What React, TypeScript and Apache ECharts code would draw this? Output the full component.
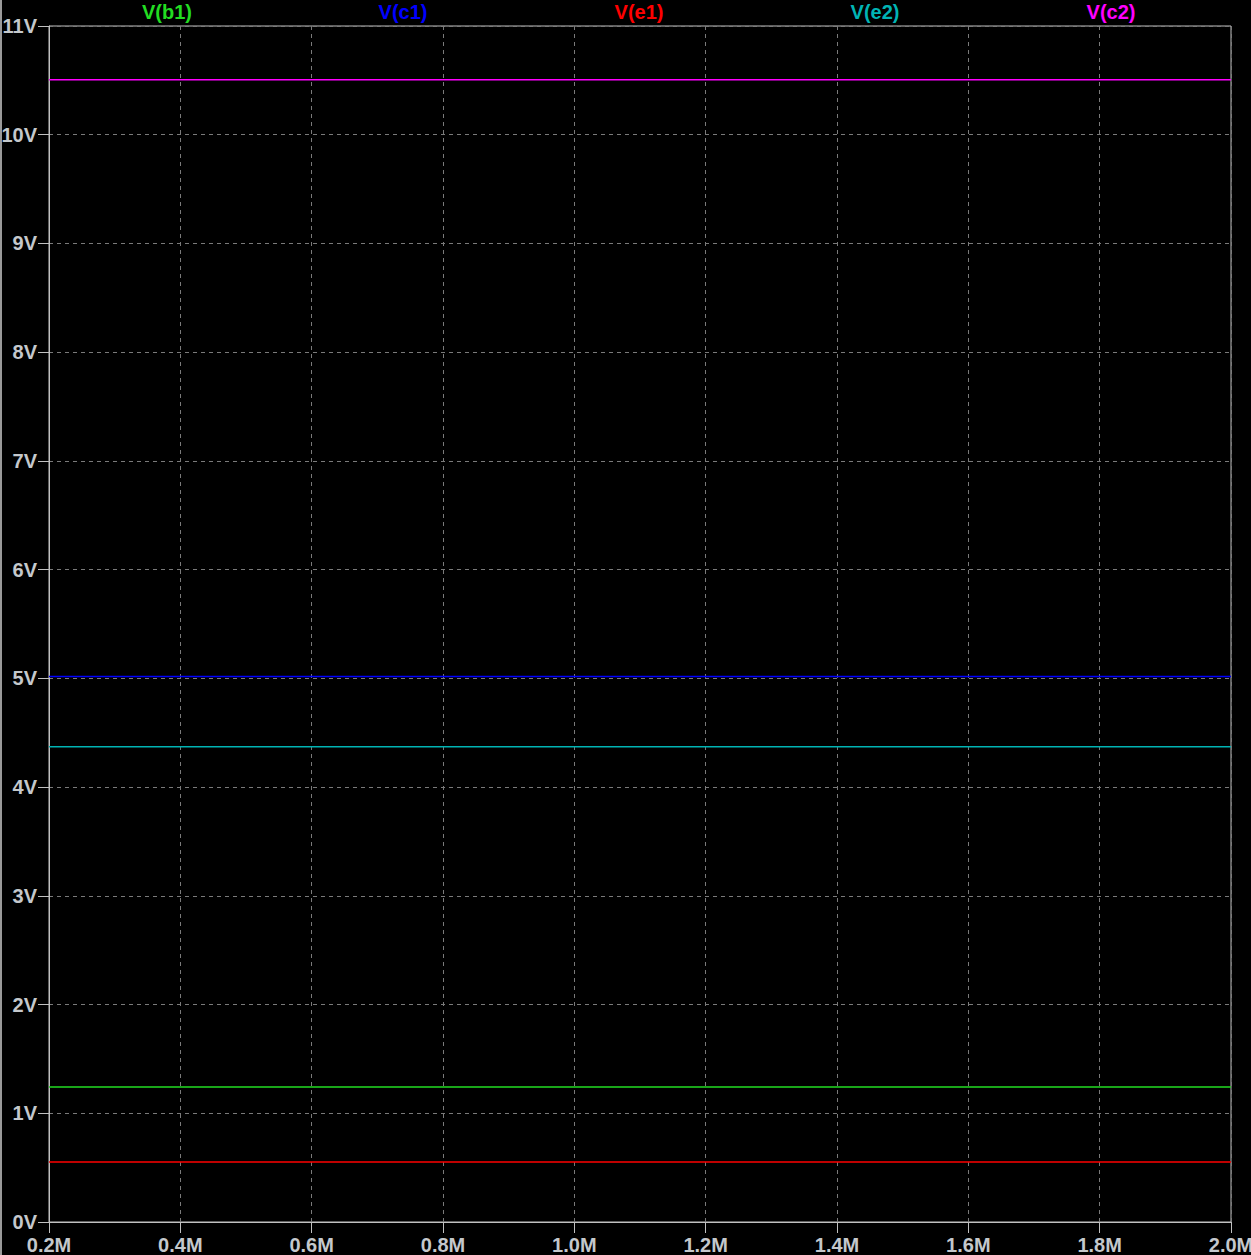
import React, { useEffect, useRef } from "react";
import * as echarts from "echarts";

const seriesNames = ["V(b1)", "V(c1)", "V(e1)", "V(e2)", "V(c2)"];
const seriesColors = ["#22dd22", "#0000ff", "#ff0000", "#00b4b4", "#ff00ff"];
const seriesValues = [1.242, 5.018, 0.552, 4.37, 10.506];
// x range in units of 0.1M (1e5)
const xStart = 2;
const xEnd = 20;

export default function App() {
  const ref = useRef<HTMLDivElement>(null);
  useEffect(() => {
    document.body.style.margin = "0";
    document.body.style.background = "#000";
    const chart = echarts.init(ref.current!, null, { renderer: "svg" });
    const labelStyle = {
      color: "#c4c8cc",
      fontFamily: "Liberation Sans, Arial, sans-serif",
      fontWeight: "bold" as const,
      fontSize: 20,
    };
    chart.setOption({
      animation: false,
      backgroundColor: "#000",
      grid: {
        left: 49,
        top: 26,
        right: 20,
        bottom: 33,
        show: true,
        borderColor: "#c0c0c0",
        borderWidth: 1,
        backgroundColor: "#000",
        outerBoundsMode: "none",
        containLabel: false,
      },
      graphic: [
        {
          type: "line",
          shape: { x1: 1, y1: 0, x2: 1, y2: 1255 },
          style: { stroke: "#9a9a9a", lineWidth: 2 },
        },
        ...seriesNames.map((n, i) => ({
          type: "text",
          x: 167 + i * 236,
          y: 12,
          style: {
            text: n,
            fill: seriesColors[i],
            font: "bold 20px 'Liberation Sans', Arial, sans-serif",
            textAlign: "center",
            textVerticalAlign: "middle",
          },
        })),
      ],
      xAxis: {
        type: "value",
        min: xStart,
        max: xEnd,
        interval: 2,
        axisLine: { show: true, lineStyle: { color: "#c0c0c0", width: 1 } },
        axisTick: { show: true, length: 11, lineStyle: { color: "#c0c0c0" } },
        axisLabel: {
          ...labelStyle,
          margin: 13,
          formatter: (v: number) => (v / 10).toFixed(1) + "M",
        },
        splitLine: { show: true, lineStyle: { color: "#7a7a7a", type: [4, 4], width: 1 } },
      },
      yAxis: {
        type: "value",
        min: 0,
        max: 11,
        interval: 1,
        axisLine: { show: true, lineStyle: { color: "#c0c0c0", width: 1 } },
        axisTick: { show: true, length: 11, lineStyle: { color: "#c0c0c0" } },
        axisLabel: {
          ...labelStyle,
          margin: 12,
          formatter: (v: number) => v + "V",
        },
        splitLine: { show: true, lineStyle: { color: "#7a7a7a", type: [4, 4], width: 1 } },
      },
      series: seriesNames.map((n, i) => ({
        type: "line",
        name: n,
        showSymbol: false,
        symbol: "none",
        data: [
          [xStart, seriesValues[i]],
          [xEnd, seriesValues[i]],
        ],
        lineStyle: { color: seriesColors[i], width: 1.5 },
        itemStyle: { color: seriesColors[i] },
      })),
    });
    return () => chart.dispose();
  }, []);
  return <div ref={ref} style={{ width: 1251, height: 1255 }} />;
}
